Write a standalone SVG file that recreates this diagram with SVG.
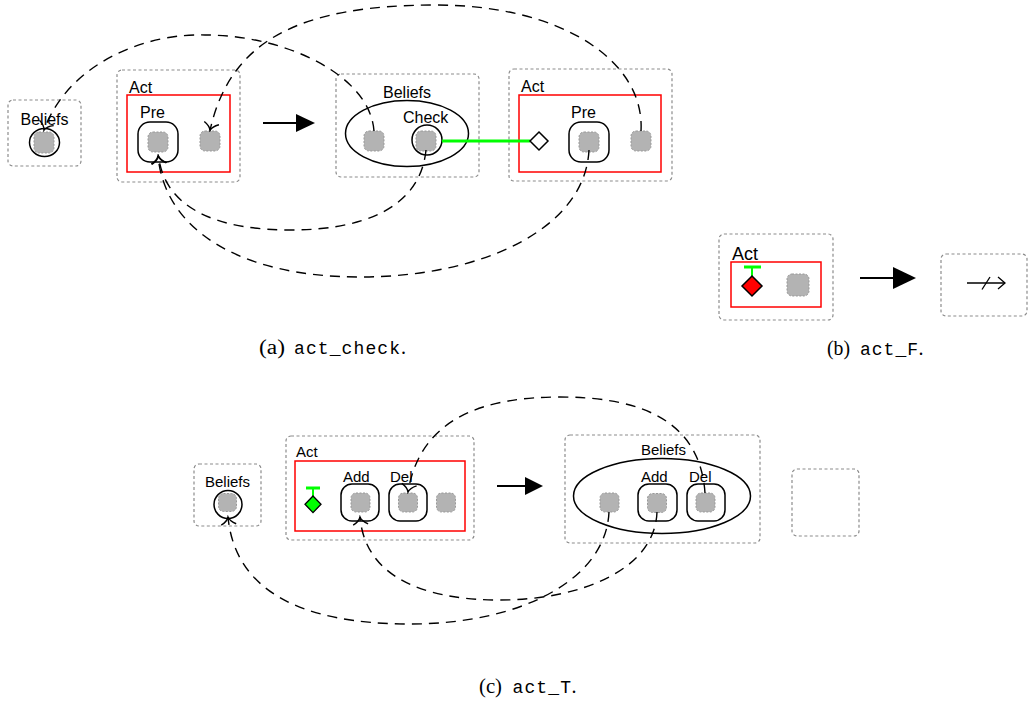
<svg xmlns="http://www.w3.org/2000/svg" width="1029" height="704" viewBox="0 0 1029 704">
<style>
.box{fill:none;stroke:#8c8c8c;stroke-width:1.2;stroke-dasharray:3,2.5}
.red{fill:none;stroke:#ff0000;stroke-width:1.5}
.rr{fill:none;stroke:#000;stroke-width:1.5}
.gs{fill:#b3b3b3;stroke:#999;stroke-width:1;stroke-dasharray:2,1.5}
.lbl{font-family:"Liberation Sans",Arial,sans-serif;fill:#000}
.a{font-size:16px}
.b{font-size:18px}
.c{font-size:15px}
.cur{fill:none;stroke:#000;stroke-width:1.4;stroke-dasharray:10,7}
.sol{stroke:#000;stroke-width:2;fill:none}
.cap{font-family:"Liberation Serif","Times New Roman",serif;font-size:20px;fill:#000}
.mono{font-family:"Liberation Mono","Courier New",monospace;font-size:18px}
</style>
<defs>
<marker id="open" markerUnits="userSpaceOnUse" viewBox="-10 -10 12 20" markerWidth="12" markerHeight="20" refX="0" refY="0" orient="auto">
<path d="M-7.5,-7.5 C-5,-2.5 -2,-0.6 0,0 C-2,0.6 -5,2.5 -7.5,7.5" fill="none" stroke="#000" stroke-width="1.4"/>
</marker>
</defs>
<rect width="1029" height="704" fill="#fff"/>

<!-- Panel (a) -->
<g id="a-beliefs-left">
<rect class="box" x="8" y="100" width="73" height="66" rx="5"/>
<text class="lbl a" x="20.5" y="125">Beliefs</text>
<ellipse class="rr" cx="44.5" cy="142.5" rx="15" ry="14"/>
<rect class="gs" x="34" y="132" width="20" height="21" rx="5"/>
</g>
<g id="a-act-left">
<rect class="box" x="117" y="70" width="123" height="112" rx="5"/>
<text class="lbl a" x="129" y="93">Act</text>
<rect class="red" x="127" y="95" width="103" height="77"/>
<text class="lbl a" x="140" y="118">Pre</text>
<rect class="rr" x="138" y="122" width="40" height="40" rx="12"/>
<rect class="gs" x="148" y="132" width="20" height="20" rx="5"/>
<rect class="gs" x="200" y="131" width="20" height="20" rx="5"/>
</g>
<g id="a-arrow">
<line class="sol" x1="263" y1="123" x2="297" y2="123"/>
<polygon points="296,114 315,123 296,132" fill="#000"/>
</g>
<g id="a-beliefs-mid">
<rect class="box" x="336" y="74" width="143" height="103" rx="5"/>
<text class="lbl a" x="383" y="98">Beliefs</text>
<ellipse class="rr" cx="407" cy="133.5" rx="61.5" ry="33"/>
<text class="lbl a" x="403" y="123">Check</text>
<circle class="rr" cx="427" cy="140" r="15"/>
<rect class="gs" x="416" y="131" width="20" height="20" rx="5"/>
<rect class="gs" x="364" y="131" width="20" height="20" rx="5"/>
</g>
<g id="a-act-right">
<rect class="box" x="509" y="69" width="163" height="112" rx="5"/>
<text class="lbl a" x="521" y="92">Act</text>
<rect class="red" x="519" y="95" width="142" height="77"/>
<text class="lbl a" x="571" y="118">Pre</text>
<rect class="rr" x="569" y="122" width="40" height="40" rx="12"/>
<rect class="gs" x="579" y="132" width="20" height="20" rx="5"/>
<rect class="gs" x="631" y="131" width="20" height="20" rx="5"/>
</g>

<!-- Panel (b) -->
<g id="b-act">
<rect class="box" x="719" y="234" width="114" height="86" rx="5"/>
<text class="lbl b" x="732" y="260">Act</text>
<rect class="red" x="731" y="262" width="90" height="45"/>
<line x1="744" y1="267" x2="761" y2="267" stroke="#00ff00" stroke-width="3"/>
<line x1="752" y1="267" x2="752" y2="276" stroke="#00ff00" stroke-width="2"/>
<polygon points="752,276 762,286 752,296 742,286" fill="#ff0000" stroke="#000" stroke-width="1.5"/>
<rect class="gs" x="787" y="274" width="22" height="22" rx="5"/>
</g>
<g id="b-arrow">
<line class="sol" x1="860" y1="278" x2="894" y2="278"/>
<polygon points="893,267 916,278 893,289" fill="#000"/>
</g>
<g id="b-result">
<rect class="box" x="941" y="254" width="86" height="62" rx="5"/>
<line x1="967" y1="283" x2="1005" y2="283" stroke="#000" stroke-width="1.5"/>
<polyline points="998,277 1005,283 998,289" fill="none" stroke="#000" stroke-width="1.3"/>
<line x1="982" y1="289.5" x2="990" y2="277" stroke="#000" stroke-width="1.3"/>
</g>

<!-- Panel (c) -->
<g id="c-beliefs-left">
<rect class="box" x="194" y="464" width="67" height="62" rx="5"/>
<text class="lbl c" x="205" y="487">Beliefs</text>
<circle class="rr" cx="228" cy="504.5" r="14"/>
<rect class="gs" x="218.5" y="493.5" width="18" height="18" rx="5"/>
</g>
<g id="c-act">
<rect class="box" x="286" y="436" width="188" height="104" rx="5"/>
<text class="lbl c" x="296" y="457">Act</text>
<rect class="red" x="295" y="461" width="170" height="70"/>
<line x1="306" y1="488" x2="320" y2="488" stroke="#00ff00" stroke-width="3"/>
<line x1="313" y1="488" x2="313" y2="496" stroke="#00ff00" stroke-width="2"/>
<polygon points="313,496 321,504.3 313,512.6 305,504.3" fill="#00ff00" stroke="#000" stroke-width="1.3"/>
<text class="lbl c" x="343" y="482">Add</text>
<rect class="rr" x="341" y="484" width="38" height="37" rx="11"/>
<rect class="gs" x="351" y="493" width="19" height="19" rx="5"/>
<text class="lbl c" x="390" y="482">Del</text>
<rect class="rr" x="389" y="484" width="38" height="37" rx="11"/>
<rect class="gs" x="398.5" y="493" width="19" height="19" rx="5"/>
<rect class="gs" x="436.5" y="493" width="19" height="19" rx="5"/>
</g>
<g id="c-arrow">
<line class="sol" x1="497" y1="486" x2="526" y2="486"/>
<polygon points="525,477 543,486 525,495" fill="#000"/>
</g>
<g id="c-beliefs-right">
<rect class="box" x="565" y="435" width="195" height="108" rx="5"/>
<text class="lbl c" x="641" y="455">Beliefs</text>
<ellipse class="rr" cx="662" cy="496" rx="88.5" ry="37.5"/>
<text class="lbl c" x="641" y="482">Add</text>
<rect class="rr" x="638" y="484" width="39" height="37" rx="11"/>
<rect class="gs" x="647.5" y="493.5" width="19" height="19" rx="5"/>
<text class="lbl c" x="689" y="482">Del</text>
<rect class="rr" x="687" y="484" width="38" height="37" rx="11"/>
<rect class="gs" x="696" y="493" width="19" height="19" rx="5"/>
<rect class="gs" x="600" y="493" width="19" height="19" rx="5"/>
</g>
<g id="c-empty">
<rect class="box" x="792" y="469" width="67" height="67" rx="5"/>
</g>

<!-- Connectors -->
<g id="connectors">
<line x1="442" y1="141" x2="530" y2="141" stroke="#00ff00" stroke-width="3"/>
<polygon points="539,132 548,141 539,150 530,141" fill="#fff" stroke="#000" stroke-width="1.5"/>
<path class="cur" d="M374,131 C370,75 285,35 205,35 C150,33 70,60 44,130" marker-end="url(#open)"/>
<path class="cur" d="M641,131 C645,60 560,5 436,5 C300,5 230,40 210,130.5" marker-end="url(#open)"/>
<path class="cur" d="M426,150 C420,210 360,230 290,230 C220,230 165,210 158.5,156" marker-end="url(#open)"/>
<path class="cur" d="M589,150 C585,230 480,277 360,277 C240,277 165,230 158,156" marker-end="url(#open)"/>
<path class="cur" d="M609,512 C606,580 520,624 410,624 C300,624 235,590 228,517" marker-end="url(#open)"/>
<path class="cur" d="M657,512 C655,570 580,600 500,600 C420,600 365,575 360,517" marker-end="url(#open)"/>
<path class="cur" d="M705,493 C700,420 640,397 560,397 C480,397 420,420 408,492" marker-end="url(#open)"/>
</g>

<!-- Captions -->
<g id="captions">
<text class="cap" x="259" y="354" textLength="26" lengthAdjust="spacingAndGlyphs">(a)</text>
<text class="cap mono" x="294" y="354" textLength="106" lengthAdjust="spacing">act_check</text>
<text class="cap" x="401" y="354">.</text>
<text class="cap" x="827" y="355" textLength="23" lengthAdjust="spacingAndGlyphs">(b)</text>
<text class="cap mono" x="860" y="355" textLength="58" lengthAdjust="spacing">act_F</text>
<text class="cap" x="918.5" y="355">.</text>
<text class="cap" x="479" y="693" textLength="23" lengthAdjust="spacingAndGlyphs">(c)</text>
<text class="cap mono" x="512.5" y="693" textLength="58.5" lengthAdjust="spacing">act_T</text>
<text class="cap" x="571.5" y="693">.</text>
</g>
</svg>
